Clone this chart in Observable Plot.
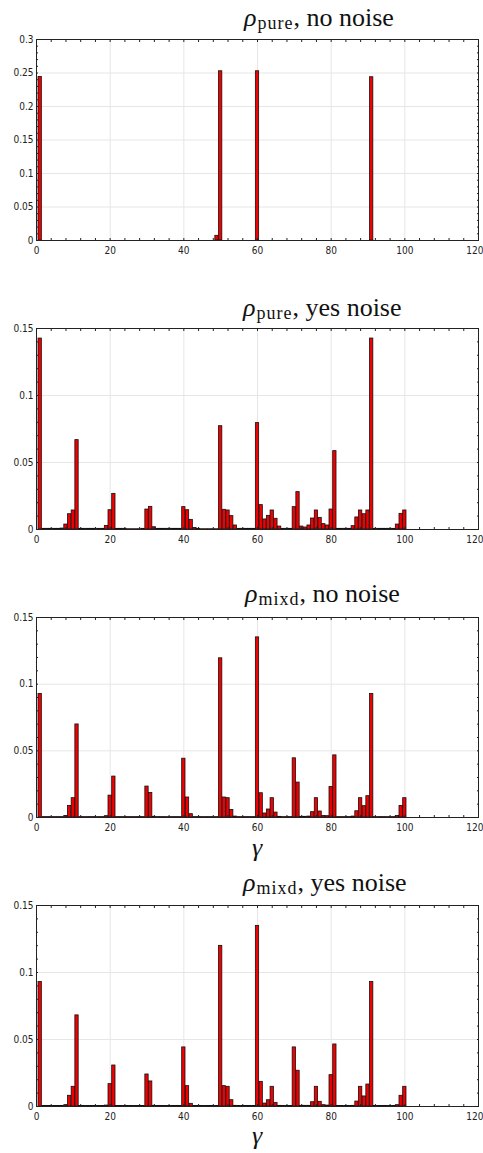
<!DOCTYPE html>
<html><head><meta charset="utf-8">
<script src="https://cdn.jsdelivr.net/npm/d3@7"></script>
<script src="https://cdn.jsdelivr.net/npm/@observablehq/plot@0.6"></script>
<style>
html,body{margin:0;padding:0;background:#fff;}
#root{position:relative;width:483px;height:1153px;overflow:hidden;background:#fff;}
.panel{position:absolute;left:0;}
.title{position:absolute;font-family:"Liberation Serif","Times New Roman",Times,serif;font-size:26px;line-height:26px;white-space:nowrap;color:#111;}
.title i{font-style:italic;}
.title .sub{position:relative;top:3px;font-size:18px;letter-spacing:1px;margin-left:1px;}
.xlab{position:absolute;font-family:"Liberation Serif","Times New Roman",Times,serif;font-size:26px;line-height:26px;font-style:italic;color:#111;transform:translateX(-50%);}
</style>
</head><body>
<div id="root"></div>
<script>
// ---- data ----
const gamma = d3.range(1, 101);

const pureNoNoise = [
  0.244,0,0,0,0,0,0,0,0,0,
  0,0,0,0,0,0,0,0,0,0,
  0,0,0,0,0,0,0,0,0,0,
  0,0,0,0,0,0,0,0,0,0,
  0,0,0,0,0,0,0,0,0.007,0.2526,
  0,0,0,0,0,0,0,0,0,0.2526,
  0,0,0,0,0,0,0,0,0,0,
  0,0,0,0,0,0,0,0,0,0,
  0,0,0,0,0,0,0,0,0,0,
  0.2437,0,0,0,0,0,0,0,0,0
];

const pureNoise = [
  0.1425,0.0005,0.0005,0.0005,0.0005,0.0005,0.0007,0.0037,0.0114,0.0142,
  0.0667,0.0005,0.0005,0.0005,0.0005,0.0005,0.0005,0.0005,0.0027,0.0144,
  0.0266,0.0005,0.0005,0.0005,0.0002,0.0002,0.0002,0.0002,0.0005,0.0149,
  0.0169,0.0017,0.0005,0.0005,0.0005,0.0005,0.0005,0.0005,0.0005,0.0167,
  0.0144,0.0072,0.0012,0.0005,0.0002,0.0002,0.0002,0.0002,0.0002,0.0771,
  0.0147,0.0142,0.0100,0.0030,0.0005,0.0005,0.0005,0.0005,0.0005,0.0794,
  0.0182,0.0075,0.0102,0.0142,0.0080,0.0022,0.0005,0.0005,0.0005,0.0167,
  0.0279,0.0022,0.0015,0.0030,0.0082,0.0142,0.0087,0.0040,0.0030,0.0149,
  0.0585,0.0005,0.0005,0.0005,0.0005,0.0025,0.0090,0.0142,0.0114,0.0142,
  0.1425,0.0005,0.0005,0.0005,0.0005,0.0005,0.0005,0.0037,0.0117,0.0142
];

const mixdNoNoise = [
  0.0927,0.0003,0.0003,0.0003,0.0003,0.0003,0.0003,0.0012,0.0087,0.0145,
  0.0698,0.0003,0.0003,0.0003,0.0003,0.0003,0.0003,0.0003,0.0010,0.0164,
  0.0307,0.0003,0.0003,0.0003,0.0003,0.0003,0.0003,0.0003,0.0003,0.0232,
  0.0184,0.0005,0.0003,0.0003,0.0003,0.0003,0.0003,0.0003,0.0003,0.0441,
  0.0150,0.0025,0.0003,0.0003,0.0003,0.0003,0.0003,0.0003,0.0003,0.1194,
  0.0150,0.0145,0.0057,0.0007,0.0003,0.0003,0.0003,0.0003,0.0003,0.1351,
  0.0182,0.0030,0.0060,0.0145,0.0037,0.0005,0.0003,0.0003,0.0003,0.0444,
  0.0262,0.0005,0.0005,0.0007,0.0040,0.0145,0.0045,0.0012,0.0010,0.0229,
  0.0466,0.0003,0.0003,0.0003,0.0003,0.0007,0.0047,0.0145,0.0085,0.0160,
  0.0927,0.0003,0.0003,0.0003,0.0003,0.0003,0.0003,0.0012,0.0087,0.0145
];

const mixdNoise = [
  0.0929,0.0003,0.0003,0.0003,0.0003,0.0003,0.0003,0.0010,0.0080,0.0147,
  0.0680,0.0003,0.0003,0.0003,0.0003,0.0003,0.0003,0.0003,0.0007,0.0167,
  0.0306,0.0003,0.0003,0.0003,0.0003,0.0003,0.0003,0.0003,0.0003,0.0239,
  0.0187,0.0005,0.0003,0.0003,0.0003,0.0003,0.0003,0.0003,0.0003,0.0441,
  0.0152,0.0020,0.0003,0.0003,0.0003,0.0003,0.0003,0.0003,0.0003,0.1199,
  0.0152,0.0147,0.0047,0.0005,0.0003,0.0003,0.0003,0.0003,0.0003,0.1348,
  0.0184,0.0022,0.0047,0.0147,0.0027,0.0005,0.0003,0.0003,0.0003,0.0441,
  0.0267,0.0005,0.0005,0.0005,0.0032,0.0147,0.0035,0.0010,0.0007,0.0234,
  0.0463,0.0003,0.0003,0.0003,0.0003,0.0005,0.0037,0.0147,0.0075,0.0164,
  0.0929,0.0003,0.0003,0.0003,0.0003,0.0003,0.0003,0.0010,0.0080,0.0147
];

const xTicks = [0, 20, 40, 60, 80, 100, 120];
const yTicksLarge = [0, 0.05, 0.1, 0.15, 0.2, 0.25, 0.3];
const yTicksSmall = [0, 0.05, 0.1, 0.15];
const titleSubs = ["pure", "pure", "mixd", "mixd"];
const titleRests = [", no noise", ", yes noise", ", no noise", ", yes noise"];
const xLabel = "γ";

// ---- layout ----
const panels = [
  {values: pureNoNoise, yMax: 0.3, yTicks: yTicksLarge, top: 39, bottom: 240, titleLeft: 244, titleBase: 27, xlab: null},
  {values: pureNoise, yMax: 0.15, yTicks: yTicksSmall, top: 328, bottom: 529, titleLeft: 243, titleBase: 317, xlab: null},
  {values: mixdNoNoise, yMax: 0.15, yTicks: yTicksSmall, top: 617, bottom: 817, titleLeft: 245, titleBase: 603, xlab: 857},
  {values: mixdNoise, yMax: 0.15, yTicks: yTicksSmall, top: 905, bottom: 1106, titleLeft: 243, titleBase: 892, xlab: 1145}
];

const root = document.getElementById("root");
const fmt = d => String(+d.toFixed(4));
const tickFont = '"DejaVu Sans Condensed","Liberation Sans",sans-serif';
const xInner = xTicks.filter(d => d < 120);
const xLast = xTicks.filter(d => d === 120);

panels.forEach((p, k) => {
  const mt = 8, mb = 24;
  const data = gamma.map((g, i) => ({g, v: p.values[i]}));
  const step = p.yTicks[1] / 5;
  const yMinor = d3.range(0, p.yMax + step / 2, step);
  const xMinor = d3.range(0, 121, 4);
  const svg = Plot.plot({
    width: 483,
    height: (p.bottom - p.top) + mt + mb,
    marginLeft: 36, marginRight: 5, marginTop: mt, marginBottom: mb,
    style: {fontFamily: tickFont, fontSize: "10px", background: "transparent", color: "#222", overflow: "visible"},
    x: {domain: [0, 120]},
    y: {domain: [0, p.yMax]},
    marks: [
      Plot.gridX(xTicks, {stroke: "#e6e6e6", strokeOpacity: 1}),
      Plot.gridY(p.yTicks, {stroke: "#e6e6e6", strokeOpacity: 1}),
      Plot.rect(data, {x1: d => d.g - 0.45, x2: d => d.g + 0.45, y1: 0, y2: "v", fill: "#f00000", stroke: "#111", strokeWidth: 0.8}),
      Plot.axisX(xInner, {anchor: "bottom", tickSize: 0, tickPadding: 6, tickFormat: d => String(d), label: null}),
      Plot.axisX(xLast, {anchor: "bottom", tickSize: 0, tickPadding: 6, tickFormat: d => String(d), label: null, textAnchor: "end", dx: 5}),
      Plot.axisY(p.yTicks, {anchor: "left", tickSize: 0, tickPadding: 3, tickFormat: fmt, label: null}),
      Plot.axisX(xMinor, {anchor: "bottom", tickSize: -2, tickFormat: () => "", label: null, stroke: "#222"}),
      Plot.axisX(xMinor, {anchor: "top", tickSize: -2, tickFormat: () => "", label: null, stroke: "#222"}),
      Plot.axisY(yMinor, {anchor: "left", tickSize: -2, tickFormat: () => "", label: null, stroke: "#222"}),
      Plot.axisY(yMinor, {anchor: "right", tickSize: -2, tickFormat: () => "", label: null, stroke: "#222"}),
      Plot.frame({stroke: "#222", strokeWidth: 1})
    ]
  });
  svg.classList.add("panel");
  svg.style.top = (p.top - mt) + "px";
  root.appendChild(svg);

  const t = document.createElement("div");
  t.className = "title";
  t.style.left = p.titleLeft + "px";
  t.style.top = (p.titleBase - 22) + "px";
  t.innerHTML = `<i>ρ</i><span class="sub">${titleSubs[k]}</span>${titleRests[k]}`;
  root.appendChild(t);

  if (p.xlab !== null) {
    const xl = document.createElement("div");
    xl.className = "xlab";
    xl.style.left = "257px";
    xl.style.top = (p.xlab - 22) + "px";
    xl.textContent = xLabel;
    root.appendChild(xl);
  }
});
</script>
</body></html>
